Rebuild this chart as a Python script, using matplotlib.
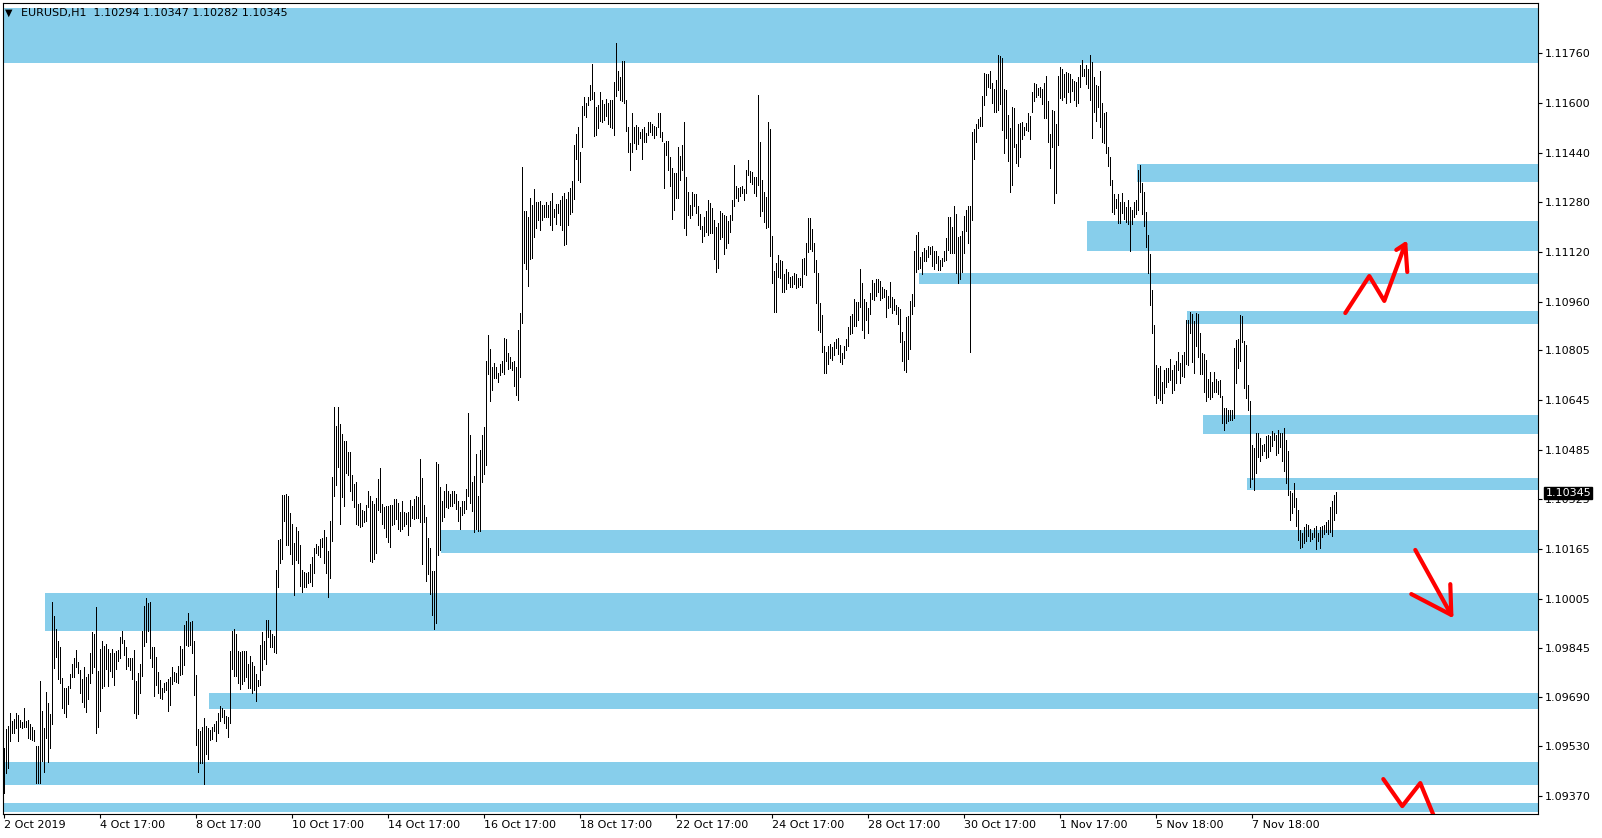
import numpy as np
import matplotlib
matplotlib.use('Agg')
import matplotlib.pyplot as plt
from matplotlib.patches import Rectangle
import matplotlib.transforms as mtransforms

# EURUSD H1 bars, in points above 1.09000 (1 point = 0.00001)
high_pts = [
    524, 585, 596, 639, 612, 618, 639, 631, 615, 607,
    652, 612, 615, 602, 591, 583, 531, 531, 740, 644,
    588, 704, 669, 634, 993, 950, 908, 869, 851, 749,
    719, 719, 724, 764, 795, 813, 840, 800, 776, 748,
    787, 752, 762, 829, 898, 892, 978, 773, 843, 870,
    854, 859, 843, 829, 842, 829, 837, 840, 882, 901,
    872, 850, 815, 815, 813, 840, 740, 765, 795, 902,
    982, 1006, 990, 993, 851, 851, 818, 769, 744, 719,
    733, 738, 748, 754, 787, 769, 765, 789, 853, 844,
    921, 935, 958, 929, 933, 870, 759, 585, 578, 591,
    620, 596, 588, 583, 591, 601, 612, 636, 660, 655,
    647, 629, 626, 837, 901, 907, 891, 837, 835, 837,
    837, 837, 794, 821, 800, 789, 762, 744, 855, 898,
    870, 937, 937, 904, 891, 885, 1098, 1194, 1196, 1339,
    1339, 1342, 1335, 1280, 1244, 1183, 1235, 1223, 1178, 1098,
    1092, 1089, 1092, 1116, 1140, 1167, 1181, 1176, 1197, 1199,
    1226, 1205, 1159, 1255,
    1397, 1623, 1561, 1623, 1567, 1535, 1513, 1513, 1476, 1476,
    1404, 1375, 1381, 1310, 1312, 1291, 1287, 1307, 1353, 1335,
    1318, 1310, 1328, 1389, 1425, 1310, 1301, 1303, 1303, 1306,
    1306, 1325, 1325, 1312, 1284, 1320, 1284, 1281, 1284, 1322,
    1303, 1325, 1335, 1332, 1456, 1394, 1306, 1268, 1199, 1168,
    1094, 1094, 1444, 1438, 1366, 1318, 1353, 1375, 1350, 1341,
    1351, 1351, 1341, 1320, 1301, 1318, 1320, 1357, 1601, 1532,
    1382, 1400, 1470, 1337, 1485, 1533, 1557, 1770, 1853, 1808,
    1751, 1764, 1749, 1730, 1761, 1770, 1843, 1840, 1795, 1783,
    1765, 1770, 1749, 1868, 1925, 2395, 2253, 2251, 2232, 2295,
    2273, 2322, 2282, 2282, 2286, 2270, 2270, 2282, 2270, 2285,
    2310, 2260, 2276, 2276, 2289, 2301, 2310, 2291, 2314, 2326,
    2350, 2463, 2499, 2521, 2443, 2590, 2619, 2600, 2619, 2659,
    2725, 2634, 2587, 2592, 2634, 2609, 2596, 2611, 2599, 2609,
    2609, 2668, 2793, 2703, 2684, 2734, 2734, 2609, 2523, 2471,
    2567, 2524, 2530, 2521, 2506, 2517, 2521, 2504, 2537, 2540,
    2533, 2527, 2521, 2568, 2568, 2506, 2471, 2479, 2479, 2427,
    2389, 2376, 2376, 2458, 2429,
    2465, 2540, 2360, 2314, 2272, 2314, 2307, 2307, 2268, 2243,
    2205, 2234, 2252, 2288, 2279, 2263, 2223, 2202, 2213, 2252,
    2247, 2239, 2237, 2220, 2239, 2288, 2400, 2334, 2327, 2330,
    2334, 2323, 2384, 2416, 2382, 2377, 2360, 2363, 2625, 2475,
    2352, 2314, 2298, 2540, 2516, 2172, 2059, 2086, 2111, 2095,
    2093, 2050, 2066, 2055, 2041, 2043, 2054, 2048, 2038, 2036,
    2097, 2102, 2150, 2229, 2231, 2194, 2150, 2095, 2054, 1957,
    1918, 1818, 1800, 1819, 1825, 1814, 1830, 1840, 1845, 1821,
    1794, 1818, 1840, 1880, 1916, 1921, 1970, 1961, 1961, 2066,
    2022, 1969, 1961, 1941, 1990, 2030, 2022, 2033, 2032, 2028,
    2009, 2000, 1998, 1980, 2023, 1977, 1968, 1950, 1945, 1938,
    1862, 1834, 1912, 1915, 1963, 1985, 2125, 2175, 2184, 2105,
    2119, 2132, 2127, 2140, 2137, 2140, 2124, 2124, 2107, 2095,
    2100, 2124, 2164, 2234, 2234, 2202, 2268, 2242, 2170, 2172,
    2188, 2236, 2255, 2268, 2268, 2507, 2516, 2532, 2548, 2554,
    2623, 2697, 2692, 2692, 2703, 2663, 2645, 2674, 2754, 2751,
    2743, 2645, 2641, 2561, 2518, 2588, 2582, 2468, 2531, 2534,
    2537, 2521, 2534, 2569, 2558, 2636, 2665, 2660, 2647, 2652,
    2645, 2665, 2686, 2606, 2499, 2577, 2575, 2532, 2686, 2714,
    2708, 2693, 2698, 2695, 2693, 2676, 2671, 2668, 2684, 2722,
    2738, 2708, 2722, 2708, 2754, 2733, 2684, 2658, 2655, 2703,
    2599, 2566, 2572, 2459, 2427, 2352, 2307, 2291, 2307, 2280,
    2309, 2282, 2266, 2288, 2266, 2255, 2282, 2288, 2384, 2400,
    2343, 2314, 2248, 2175, 2114, 1998, 1886, 1757, 1746, 1754,
    1703, 1741, 1746, 1748, 1775, 1741, 1757, 1771, 1798, 1762,
    1789, 1800, 1902, 1902, 1928, 1920, 1899, 1923, 1921, 1859,
    1794, 1792, 1773, 1711, 1735, 1701, 1735, 1711, 1707, 1709,
    1657, 1617, 1617, 1612, 1612, 1612, 1810, 1837, 1839, 1918,
    1916, 1834, 1821, 1693, 1641, 1500, 1489, 1537, 1537, 1521,
    1500, 1503, 1529, 1532, 1530, 1545, 1537, 1532, 1548, 1537,
    1537, 1553, 1516, 1480, 1352, 1344, 1376, 1330, 1290, 1226,
    1215, 1235, 1244, 1242, 1228, 1215, 1232, 1239, 1218, 1235,
    1239, 1242, 1253, 1258, 1301, 1320, 1339, 1349,
]
low_pts = [
    379, 443, 460, 549, 572, 574, 588, 549, 594, 588,
    591, 591, 558, 555, 551, 549, 413, 411, 413, 483,
    449, 558, 481, 526, 601, 781, 819, 748, 733, 655,
    636, 624, 665, 717, 752, 754, 787, 765, 703, 674,
    656, 642, 683, 733, 765, 787, 572, 594, 645, 717,
    724, 780, 724, 773, 752, 729, 779, 806, 813, 862,
    824, 779, 790, 776, 748, 636, 620, 633, 703, 758,
    854, 867, 902, 813, 784, 692, 726, 701, 687, 682,
    706, 711, 645, 662, 731, 740, 738, 735, 760, 763,
    791, 855, 854, 855, 829, 694, 535, 449, 476, 478,
    408, 505, 489, 551, 553, 578, 549, 572, 612, 626,
    606, 588, 559, 606, 780, 758, 758, 735, 714, 730,
    740, 752, 719, 717, 703, 712, 677, 724, 728, 775,
    812, 795, 883, 851, 849, 834, 831, 1044, 1121, 1132,
    1256, 1178, 1178, 1148, 1118, 1017, 1130, 1119, 1046, 1028,
    1042, 1044, 1057, 1060, 1047, 1089, 1151, 1146, 1140, 1173,
    1120, 1087, 1010, 1073,
    1190, 1335, 1372, 1429, 1247, 1331, 1303, 1410, 1404, 1353,
    1322, 1300, 1247, 1243, 1237, 1240, 1253, 1256, 1301, 1125,
    1124, 1134, 1153, 1291, 1284, 1247, 1234, 1203, 1188, 1171,
    1243, 1247, 1262, 1230, 1222, 1230, 1238, 1247, 1209, 1240,
    1266, 1263, 1266, 1266, 1251, 1118, 1251, 1062, 1084, 1021,
    952, 908, 927, 1146, 1161, 1256, 1268, 1301, 1297, 1303,
    1303, 1313, 1293, 1256, 1230, 1274, 1281, 1293, 1337, 1312,
    1288, 1219, 1230, 1224, 1222, 1382, 1406, 1435, 1728, 1642,
    1677, 1714, 1714, 1702, 1724, 1733, 1728, 1771, 1743, 1746,
    1740, 1689, 1661, 1645, 1717, 1891, 2086, 2065, 2012, 2099,
    2100, 2167, 2196, 2223, 2192, 2223, 2232, 2232, 2234, 2207,
    2192, 2232, 2209, 2245, 2207, 2192, 2142, 2147, 2207, 2242,
    2248, 2292, 2418, 2351, 2345, 2458, 2561, 2556, 2592, 2609,
    2611, 2492, 2498, 2518, 2543, 2540, 2546, 2558, 2533, 2521,
    2518, 2496, 2621, 2640, 2609, 2605, 2599, 2511, 2442, 2383,
    2443, 2471, 2452, 2468, 2486, 2420, 2473, 2474, 2496, 2506,
    2496, 2487, 2496, 2521, 2489, 2477, 2326, 2433, 2385, 2332,
    2226, 2255, 2295, 2295, 2351,
    2384, 2199, 2175, 2239, 2231, 2239, 2269, 2245, 2207, 2194,
    2154, 2173, 2184, 2175, 2180, 2180, 2098, 2057, 2068, 2162,
    2168, 2114, 2134, 2150, 2184, 2223, 2269, 2295, 2286, 2302,
    2309, 2288, 2311, 2368, 2347, 2339, 2311, 2302, 2336, 2237,
    2252, 2218, 2199, 2200, 2109, 2020, 1928, 1928, 2039, 2036,
    1993, 1993, 2000, 2020, 2009, 2009, 2016, 2004, 2009, 2014,
    2009, 2050, 2045, 2119, 2130, 2125, 2057, 1955, 1870, 1864,
    1800, 1732, 1730, 1759, 1778, 1773, 1789, 1810, 1791, 1768,
    1759, 1778, 1805, 1818, 1856, 1859, 1882, 1882, 1902, 1945,
    1870, 1843, 1902, 1861, 1920, 1968, 1966, 1980, 1993, 1966,
    1971, 1975, 1912, 1939, 1945, 1923, 1934, 1920, 1888, 1832,
    1770, 1741, 1733, 1775, 1807, 1921, 1948, 2055, 2065, 2068,
    2049, 2093, 2093, 2105, 2114, 2076, 2065, 2084, 2062, 2062,
    2075, 2093, 2095, 2127, 2116, 2116, 2116, 2054, 2020, 2032,
    2055, 2118, 2189, 2148, 1800, 2223, 2418, 2475, 2520, 2526,
    2526, 2593, 2625, 2652, 2647, 2601, 2572, 2572, 2577, 2595,
    2513, 2440, 2488, 2414, 2312, 2336, 2459, 2406, 2397, 2427,
    2484, 2497, 2513, 2511, 2483, 2572, 2606, 2620, 2625, 2618,
    2596, 2552, 2550, 2475, 2392, 2459, 2279, 2311, 2465, 2615,
    2609, 2618, 2599, 2634, 2602, 2638, 2609, 2591, 2599, 2652,
    2688, 2688, 2660, 2649, 2609, 2488, 2572, 2542, 2588, 2521,
    2475, 2472, 2438, 2398, 2336, 2248, 2243, 2261, 2213, 2213,
    2245, 2227, 2218, 2209, 2125, 2209, 2234, 2243, 2255, 2314,
    2242, 2205, 2138, 2052, 1950, 1859, 1660, 1636, 1650, 1644,
    1634, 1666, 1687, 1703, 1709, 1666, 1677, 1700, 1741, 1698,
    1722, 1719, 1760, 1757, 1859, 1768, 1730, 1818, 1784, 1727,
    1728, 1669, 1642, 1653, 1648, 1655, 1671, 1669, 1664, 1655,
    1569, 1548, 1571, 1577, 1580, 1580, 1585, 1700, 1746, 1771,
    1832, 1682, 1650, 1612, 1366, 1389, 1355, 1408, 1462, 1449,
    1467, 1480, 1457, 1462, 1481, 1497, 1516, 1467, 1473, 1492,
    1449, 1417, 1378, 1339, 1258, 1280, 1301, 1239, 1194, 1167,
    1170, 1183, 1192, 1207, 1191, 1196, 1203, 1164, 1192, 1167,
    1205, 1212, 1221, 1213, 1221, 1207, 1258, 1282,
]

date_labels = ['2 Oct 2019', '4 Oct 17:00', '8 Oct 17:00', '10 Oct 17:00',
               '14 Oct 17:00', '16 Oct 17:00', '18 Oct 17:00', '22 Oct 17:00',
               '24 Oct 17:00', '28 Oct 17:00', '30 Oct 17:00', '1 Nov 17:00',
               '5 Nov 18:00', '7 Nov 18:00']
bars_per_label = 48

price_ticks = [1.11760, 1.11600, 1.11440, 1.11280, 1.11120, 1.10960, 1.10805,
               1.10645, 1.10485, 1.10325, 1.10165, 1.10005, 1.09845, 1.09690,
               1.09530, 1.09370]

# supply / demand zones: first bar, lower edge, upper edge
zone_start = [0, 567, 542, 458, 592, 600, 622, 219, 21, 103, 0, 0]
zone_low = [1.11728, 1.11346, 1.11124, 1.11017, 1.10889, 1.10535, 1.10355,
            1.10152, 1.09901, 1.09650, 1.09406, 1.09319]
zone_high = [1.11905, 1.11403, 1.11220, 1.11053, 1.10931, 1.10596, 1.10393,
             1.10226, 1.10022, 1.09701, 1.09480, 1.09348]

# hand drawn red arrows (bar index, price)
arrow_up = [(670.9, 1.10924), (682.9, 1.11043), (690.4, 1.10963), (700.9, 1.11146)]
arrow_up_head = [(696.4, 1.11127), (700.9, 1.11146), (701.9, 1.11056)]
arrow_down = [(705.9, 1.10162), (723.9, 1.09953)]
arrow_down_head = [(703.9, 1.10020), (723.9, 1.09953), (723.4, 1.10052)]
arrow_zig = [(689.9, 1.09425), (699.4, 1.09338), (708.4, 1.09412), (716.4, 1.09287)]

last_price = 1.10345
header = 'EURUSD,H1  1.10294 1.10347 1.10282 1.10345'

highs = 1.09 + np.array(high_pts) / 1e5
lows = 1.09 + np.array(low_pts) / 1e5
x = np.arange(len(highs))

W, H = 1602, 838
fig = plt.figure(figsize=(W / 100, H / 100), dpi=100)
ax = fig.add_axes([3 / W, (H - 814) / H, 1535 / W, 811 / H])
xmin, xmax = -0.25, 767.25
ax.set_xlim(xmin, xmax)
ax.set_ylim(1.093126, 1.119213)

zone_color = '#87CEEB'
for s, lo, hi in zip(zone_start, zone_low, zone_high):
    left = s - 0.5 if s > 0 else xmin - 1
    ax.add_patch(Rectangle((left, lo), xmax + 1 - left, hi - lo,
                           facecolor=zone_color, edgecolor='none',
                           antialiased=False, zorder=1))

ax.vlines(x, lows, highs, colors='black', linewidth=0.72,
          antialiased=False, zorder=2)

red_kw = dict(color='#FF0000', linewidth=3, solid_capstyle='round',
              solid_joinstyle='round', zorder=3)
for path in [arrow_up, arrow_up_head, arrow_down, arrow_down_head, arrow_zig]:
    px, py = zip(*path)
    ax.plot(px, py, **red_kw)

# axes
for sp in ax.spines.values():
    sp.set_color('black')
    sp.set_linewidth(0.8)
ax.yaxis.tick_right()
ax.set_yticks(price_ticks)
ax.set_yticklabels([f'{p:.5f}' for p in price_ticks])
ax.set_xticks(np.arange(len(date_labels)) * bars_per_label)
ax.set_xticklabels(date_labels)
for lab in ax.get_xticklabels():
    lab.set_horizontalalignment('left')
ax.tick_params(axis='both', direction='out', length=3, width=0.8,
               labelsize=8, colors='black', pad=2)
ax.tick_params(axis='x', pad=1.5)

# current price marker
trans = mtransforms.blended_transform_factory(ax.transAxes, ax.transData)
ax.text(1.0048, last_price, f'{last_price:.5f}', transform=trans, fontsize=8,
        color='white', va='center', ha='left', zorder=5, clip_on=False,
        bbox=dict(boxstyle='square,pad=0.12', facecolor='black', edgecolor='black'))

# header
fig.text(5 / W, 1 - 13 / H, '\u25bc', fontsize=7, va='center', ha='left')
fig.text(21 / W, 1 - 13 / H, header, fontsize=8, va='center', ha='left')

fig.savefig('out.png', dpi=100)
